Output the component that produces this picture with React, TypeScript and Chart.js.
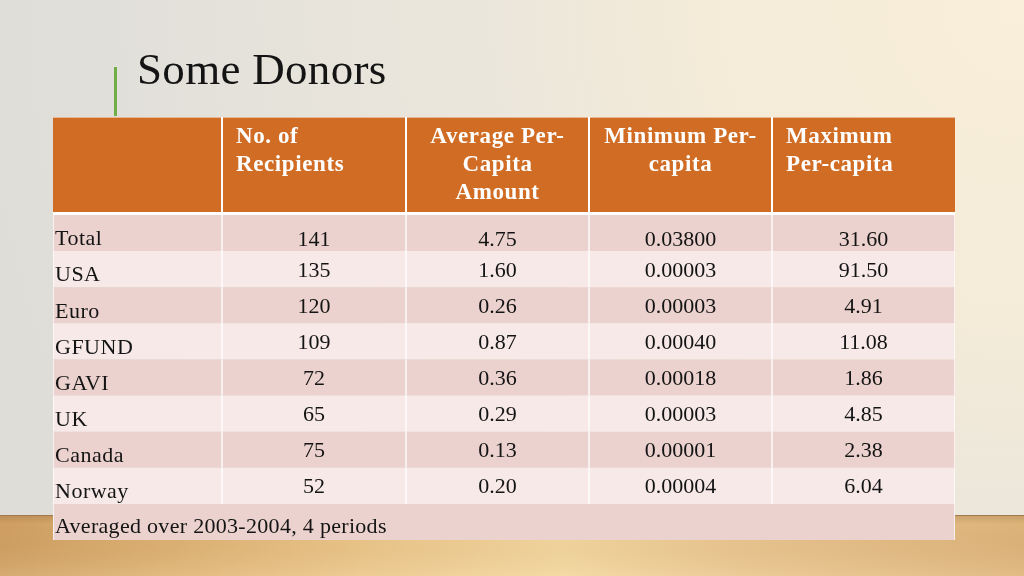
import React, { useEffect, useRef } from 'react';
import { Chart, registerables } from 'chart.js';

Chart.register(...registerables);

// ---------- data ----------
const TITLE = 'Some Donors';
const rowLabels = ['Total', 'USA', 'Euro', 'GFUND', 'GAVI', 'UK', 'Canada', 'Norway'];
const footerNote = 'Averaged over 2003-2004, 4 periods';
const headerLabels: string[][] = [
  [],
  ['No. of', 'Recipients'],
  ['Average Per-', 'Capita', 'Amount'],
  ['Minimum Per-', 'capita'],
  ['Maximum', 'Per-capita'],
];
const recipients = [141, 135, 120, 109, 72, 65, 75, 52];
const avgPerCapita = [4.75, 1.6, 0.26, 0.87, 0.36, 0.29, 0.13, 0.2];
const minPerCapita = [0.038, 0.00003, 0.00003, 0.0004, 0.00018, 0.00003, 0.00001, 0.00004];
const maxPerCapita = [31.6, 91.5, 4.91, 11.08, 1.86, 4.85, 2.38, 6.04];

// ---------- layout / style ----------
const COL_WIDTHS = [169, 184, 183, 183, 183];
const TABLE_WIDTH = COL_WIDTHS.reduce((a, b) => a + b, 0);
const HEADER_ALIGN: CanvasTextAlign[] = ['left', 'left', 'center', 'center', 'left'];
const HEADER_ORANGE = '#D06C24';
const ROW_DARK = '#EBD2CE';
const ROW_LIGHT = '#F6E9E8';
const TEXT = '#141414';
const SERIF = "'Liberation Serif', 'Times New Roman', serif";

const columns: string[][] = [
  rowLabels,
  recipients.map((v) => String(v)),
  avgPerCapita.map((v) => v.toFixed(2)),
  minPerCapita.map((v) => v.toFixed(5)),
  maxPerCapita.map((v) => v.toFixed(2)),
];

const slidePlugin = {
  id: 'slideTable',
  beforeDraw(chart: any) {
    const { ctx, width, height } = chart;
    ctx.save();
    // wall background
    const g = ctx.createRadialGradient(width, 0, 0, width, 0, 1050);
    g.addColorStop(0, '#F9EFDA');
    g.addColorStop(0.3, '#F4EBD8');
    g.addColorStop(0.5, '#ECE7DC');
    g.addColorStop(0.8, '#E3E1DA');
    g.addColorStop(1, '#DEDDD8');
    ctx.fillStyle = g;
    ctx.fillRect(0, 0, width, height);
    // wooden floor
    const floorTop = 515;
    const f = ctx.createLinearGradient(0, 0, width, 0);
    f.addColorStop(0, '#CF9F62');
    f.addColorStop(0.15, '#DCAF72');
    f.addColorStop(0.35, '#EAC589');
    f.addColorStop(0.55, '#F3D69E');
    f.addColorStop(0.72, '#E9C58F');
    f.addColorStop(1, '#DDB37A');
    ctx.fillStyle = f;
    ctx.fillRect(0, floorTop, width, height - floorTop);
    const shade = ctx.createLinearGradient(0, floorTop, 0, height);
    shade.addColorStop(0, 'rgba(120,80,40,0.22)');
    shade.addColorStop(0.15, 'rgba(120,80,40,0)');
    shade.addColorStop(1, 'rgba(255,240,200,0.15)');
    ctx.fillStyle = shade;
    ctx.fillRect(0, floorTop, width, height - floorTop);
    ctx.fillStyle = '#A07A4C';
    ctx.fillRect(0, floorTop, width, 1);
    // accent line
    ctx.fillStyle = '#72AE48';
    ctx.fillRect(114, 67, 3, 49);
    // title
    ctx.fillStyle = TEXT;
    ctx.font = `45px ${SERIF}`;
    (ctx as any).letterSpacing = '0.3px';
    ctx.textAlign = 'left';
    ctx.textBaseline = 'alphabetic';
    ctx.fillText(TITLE, 137, 84);
    ctx.restore();
  },
  afterDatasetsDraw(chart: any) {
    const { ctx, chartArea: area } = chart;
    const metas = COL_WIDTHS.map((_, c) => chart.getDatasetMeta(c));
    const first = metas.map((m: any) => m.data[0]);
    ctx.save();
    // header band
    const top = area.top - 98;
    const bottom = area.top - 3;
    ctx.fillStyle = HEADER_ORANGE;
    ctx.fillRect(area.left, top, area.right - area.left, bottom - top);
    ctx.fillStyle = '#FFFFFF';
    ctx.fillRect(area.left, bottom, area.right - area.left, area.top - bottom);
    first.forEach((b: any, c: number) => {
      if (c > 0) ctx.fillRect(b.base - 1, top, 2, bottom - top);
    });
    ctx.fillStyle = 'rgba(255,255,255,0.5)';
    ctx.fillRect(area.left, top, area.right - area.left, 1);
    // header text
    ctx.font = `bold 23px ${SERIF}`;
    (ctx as any).letterSpacing = '0.6px';
    ctx.fillStyle = '#FFFFFF';
    ctx.textBaseline = 'alphabetic';
    headerLabels.forEach((lines, c) => {
      const b = first[c];
      const align = HEADER_ALIGN[c];
      ctx.textAlign = align;
      const x = align === 'center' ? (b.base + b.x) / 2 : b.base + 14;
      lines.forEach((t, i) => ctx.fillText(t, x, top + 26 + i * 28));
    });
    // body text
    ctx.fillStyle = TEXT;
    ctx.font = `22px ${SERIF}`;
    columns.forEach((col, c) => {
      const meta = metas[c];
      col.forEach((t, r) => {
        const b = meta.data[r];
        if (c === 0) {
          (ctx as any).letterSpacing = '0.5px';
          ctx.textAlign = 'left';
          ctx.fillText(t, b.base + 2, b.y + 12.3);
        } else {
          (ctx as any).letterSpacing = '0px';
          ctx.textAlign = 'center';
          ctx.fillText(t, (b.base + b.x) / 2, b.y + 7.4 + (r === 0 ? 6 : 0));
        }
      });
    });
    // footer note
    const fb = metas[0].data[rowLabels.length];
    (ctx as any).letterSpacing = '0.3px';
    ctx.textAlign = 'left';
    ctx.fillText(footerNote, fb.base + 2, fb.y + 11.5);
    ctx.restore();
  },
};

export default function App() {
  const ref = useRef<HTMLCanvasElement>(null);
  useEffect(() => {
    document.body.style.margin = '0';
    const canvas = ref.current;
    if (!canvas) return;
    const datasets = COL_WIDTHS.map((w, c) => ({
      label: headerLabels[c].join(' ') || 'Donor',
      data: [...rowLabels.map(() => w), c === 0 ? TABLE_WIDTH : null],
      backgroundColor: (ctx: any) => (ctx.dataIndex % 2 === 0 ? ROW_DARK : ROW_LIGHT),
      borderColor: '#FFFFFF',
      borderWidth: { left: 1, right: 1, top: 0, bottom: 0 },
      borderSkipped: false,
      barPercentage: 1,
      categoryPercentage: 1,
    }));
    const chart = new Chart(canvas, {
      type: 'bar',
      data: { labels: [...rowLabels, footerNote], datasets: datasets as any },
      options: {
        indexAxis: 'y',
        responsive: false,
        maintainAspectRatio: false,
        animation: false,
        devicePixelRatio: 1,
        events: [],
        layout: { padding: { left: 53, right: 1024 - 53 - TABLE_WIDTH, top: 215, bottom: 36 } },
        scales: {
          x: { type: 'linear', display: false, stacked: true, min: 0, max: TABLE_WIDTH },
          y: { type: 'category', display: false, stacked: true, offset: true },
        },
        plugins: {
          legend: { display: false },
          tooltip: { enabled: false },
          title: { display: false },
        },
      } as any,
      plugins: [slidePlugin],
    });
    return () => chart.destroy();
  }, []);
  return (
    <div style={{ width: 1024, height: 576, position: 'relative', overflow: 'hidden' }}>
      <canvas ref={ref} width={1024} height={576} style={{ display: 'block', width: 1024, height: 576 }} />
    </div>
  );
}
